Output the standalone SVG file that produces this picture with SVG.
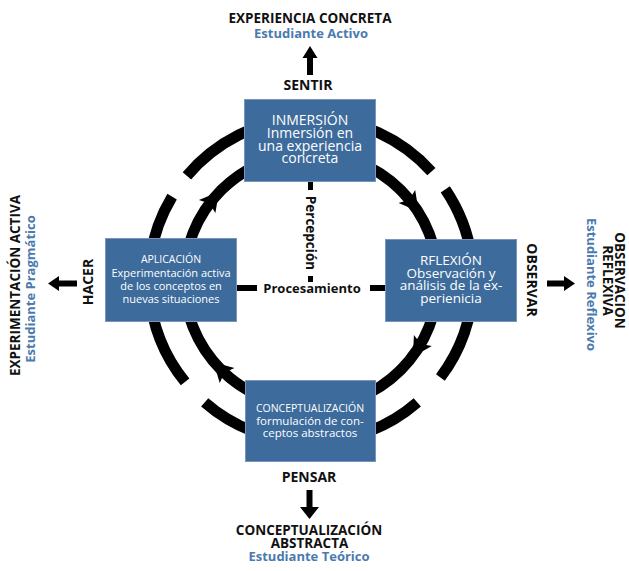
<svg xmlns="http://www.w3.org/2000/svg" xmlns:xlink="http://www.w3.org/1999/xlink" width="629" height="571" viewBox="0 0 629 571">
<style>
.box{fill:#3d6b9c;stroke:#7896bb;stroke-width:1}
.bt{font-family:"Open Sans","Noto Sans",sans-serif;fill:#ffffff;text-anchor:middle}
.lb{font-family:"Open Sans","Noto Sans",sans-serif;font-weight:bold;fill:#111111;text-anchor:middle}
.bl{font-family:"Open Sans","Noto Sans",sans-serif;font-weight:bold;fill:#4a7aae;text-anchor:middle}
.arc{fill:none;stroke:#000;stroke-width:11}
</style>
<defs>
<path id="ah" d="M12,0 L-7,-10.5 L-3,0 L-7,10.5 Z" fill="#000"/>
</defs>
<rect width="629" height="571" fill="#fff"/>
<g id="connectors">
<circle class="arc" cx="311" cy="280" r="127"/>
<path class="arc" d="M431.4 171.6 A162 162 0 0 0 186.9 175.9"/>
<path class="arc" d="M172.1 196.6 A162 162 0 0 0 185.1 381.9"/>
<path class="arc" d="M204.7 402.3 A162 162 0 0 0 417.3 402.3"/>
<path class="arc" d="M440.4 377.5 A162 162 0 0 0 445.3 189.4"/>
<use xlink:href="#ah" transform="translate(211.5 201.1) rotate(-51.6)"/>
<use xlink:href="#ah" transform="translate(411.2 202) rotate(52.1)"/>
<use xlink:href="#ah" transform="translate(419.2 346.5) rotate(121.6)"/>
<use xlink:href="#ah" transform="translate(222.1 370.7) rotate(224.4)"/>
<rect x="308" y="181" width="5" height="9" fill="#000"/>
<rect x="308" y="276" width="5" height="6" fill="#000"/>
<rect x="237" y="285" width="20" height="6" fill="#000"/>
<rect x="370" y="285" width="16" height="6" fill="#000"/>
<path d="M307 75 V58 H302.5 L310 46 L317.5 58 H313 V75 Z" fill="#000"/>
<path d="M306.5 490 V507 H300 L309.5 519 L319 507 H312.5 V490 Z" fill="#000"/>
<path d="M77 280.5 H59 V276 L48 283.5 L59 291 V286.5 H77 Z" fill="#000"/>
<path d="M547 280.5 H564 V276 L575 283.5 L564 291 V286.5 H547 Z" fill="#000"/>
</g>
<g id="inmersion">
<rect class="box" x="244.5" y="99.5" width="131" height="82"/>
<text class="bt" font-size="14" x="310" y="125">INMERSIÓN</text>
<text class="bt" font-size="14" x="310" y="138">Inmersión en</text>
<text class="bt" font-size="14" x="310" y="150.5">una experiencia</text>
<text class="bt" font-size="14" x="310" y="163">concreta</text>
</g>
<g id="aplicacion">
<rect class="box" x="105.5" y="238.5" width="131" height="83"/>
<text class="bt" font-size="10.5" x="171" y="263">APLICACIÓN</text>
<text class="bt" font-size="11" x="171" y="276.5">Experimentación activa</text>
<text class="bt" font-size="11" x="171" y="289.5">de los conceptos en</text>
<text class="bt" font-size="11" x="171" y="302.5">nuevas situaciones</text>
</g>
<g id="reflexion">
<rect class="box" x="385.5" y="239.5" width="131" height="82"/>
<text class="bt" font-size="13.5" x="451" y="265">RFLEXIÓN</text>
<text class="bt" font-size="13.5" x="451" y="277.5">Observación y</text>
<text class="bt" font-size="13.5" x="451" y="290">análisis de la ex-</text>
<text class="bt" font-size="13.5" x="451" y="302.5">perienicia</text>
</g>
<g id="conceptualizacion">
<rect class="box" x="245.5" y="380.5" width="130" height="81"/>
<text class="bt" font-size="10.5" x="310" y="412">CONCEPTUALIZACIÓN</text>
<text class="bt" font-size="11.5" x="310" y="424.5">formulación de con-</text>
<text class="bt" font-size="11.5" x="310" y="437">ceptos abstractos</text>
</g>
<g id="labels">
<text class="lb" font-size="13.5" x="310" y="23">EXPERIENCIA CONCRETA</text>
<text class="bl" font-size="13" x="311" y="38">Estudiante Activo</text>
<text class="lb" font-size="14" x="308" y="90">SENTIR</text>
<text class="lb" font-size="14" x="309" y="482">PENSAR</text>
<text class="lb" font-size="13.5" x="309" y="535">CONCEPTUALIZACIÓN</text>
<text class="lb" font-size="13.5" x="309.5" y="548">ABSTRACTA</text>
<text class="bl" font-size="13" x="309" y="561">Estudiante Teórico</text>
<text class="lb" font-size="13.5" transform="translate(20 285.5) rotate(-90)">EXPERIMENTACIÓN ACTIVA</text>
<text class="bl" font-size="13" transform="translate(35 289) rotate(-90)">Estudiante Pragmático</text>
<text class="lb" font-size="14" transform="translate(93 282) rotate(-90)">HACER</text>
<text class="lb" font-size="14" transform="translate(527 280) rotate(90)">OBSERVAR</text>
<text class="bl" font-size="13" transform="translate(587 284.5) rotate(90)">Estudiante Reflexivo</text>
<text class="lb" font-size="13.5" transform="translate(603 280.5) rotate(90)">REFLEXIVA</text>
<text class="lb" font-size="13.5" transform="translate(615 280.5) rotate(90)">OBSERVACION</text>
<text class="lb" font-size="13.5" transform="translate(306 233) rotate(90)">Percepción</text>
<text class="lb" font-size="13" x="312" y="293">Procesamiento</text>
</g>
</svg>
